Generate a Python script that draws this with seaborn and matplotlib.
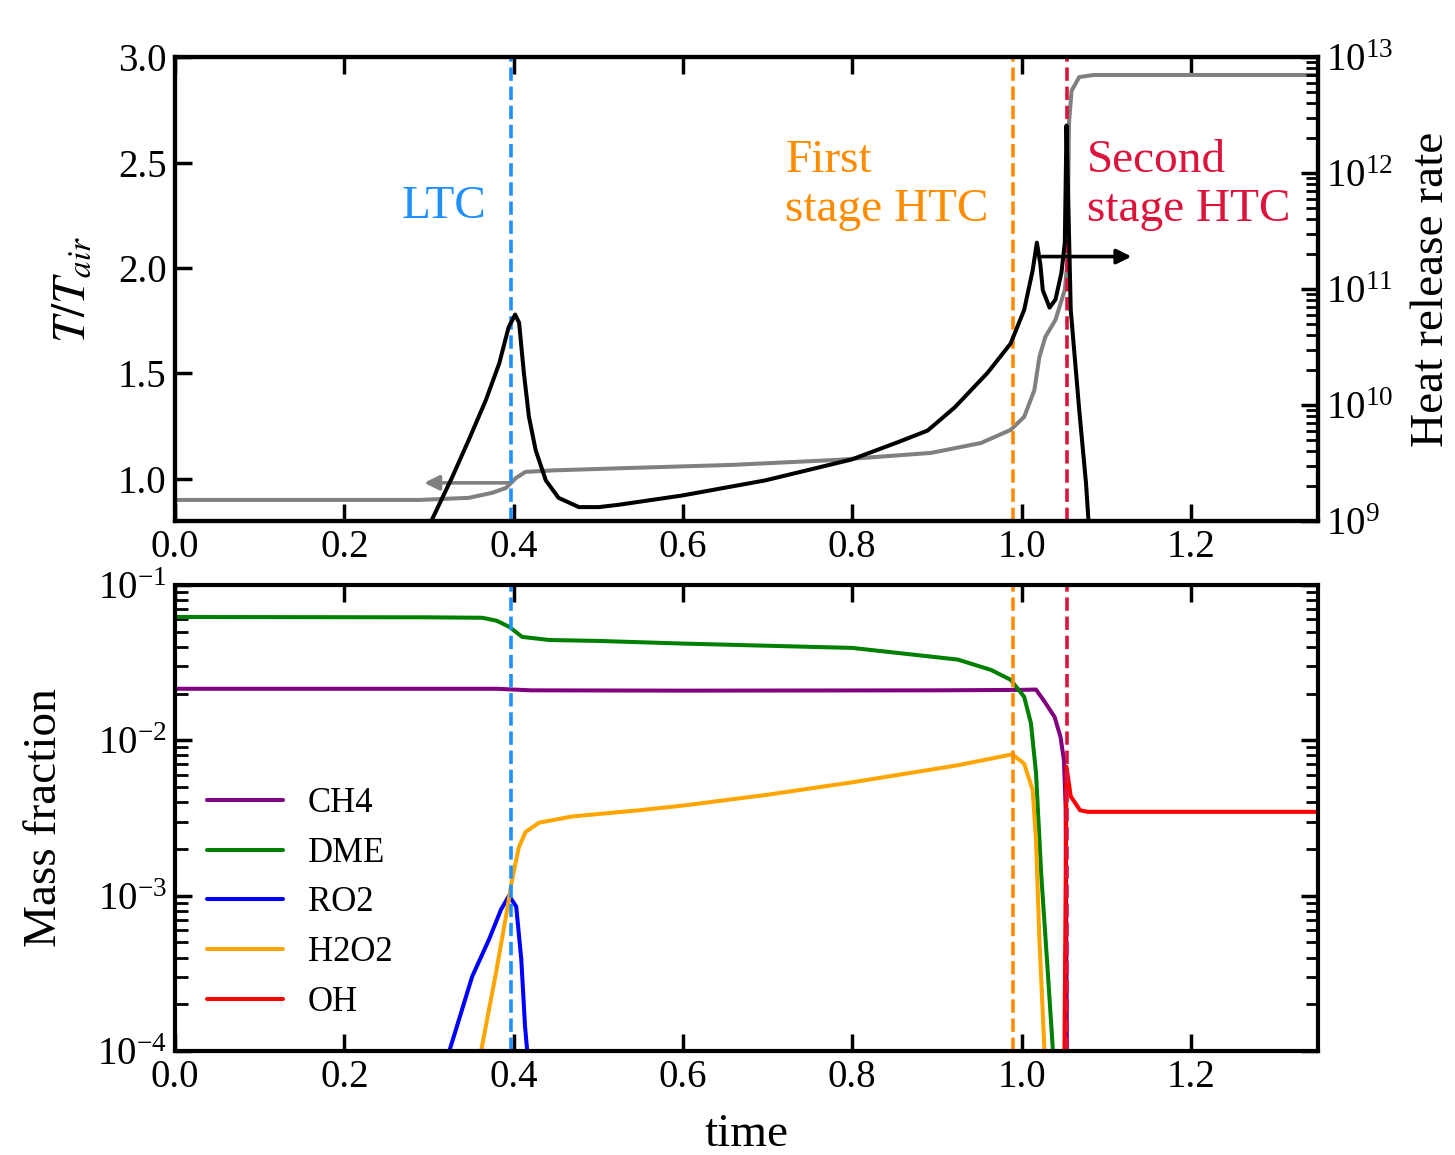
import numpy as np
import pandas as pd
import matplotlib
matplotlib.use("Agg")
import matplotlib.pyplot as plt
import seaborn as sns

# ---------------- data ----------------
t_temp = [0.0, 0.289, 0.347, 0.375, 0.391, 0.403, 0.414, 0.446, 0.524, 0.657, 0.783,
          0.799, 0.893, 0.952, 0.987, 1.003, 1.015, 1.021, 1.028, 1.040, 1.051,
          1.054, 1.056, 1.059, 1.068, 1.085, 1.35]
temp = [0.90, 0.90, 0.91, 0.934, 0.957, 1.005, 1.033, 1.04, 1.05, 1.066, 1.09,
        1.095, 1.123, 1.17, 1.232, 1.294, 1.42, 1.578, 1.673, 1.754, 1.896,
        2.024, 2.69, 2.84, 2.905, 2.915, 2.915]

t_hrr = [0.3027, 0.3275, 0.347, 0.367, 0.383, 0.394, 0.4017, 0.4064, 0.412, 0.418,
         0.426, 0.438, 0.453, 0.477, 0.5006, 0.524, 0.599, 0.697, 0.799, 0.854,
         0.889, 0.921, 0.960, 0.987, 1.003, 1.013, 1.018, 1.022, 1.025, 1.033,
         1.040, 1.047, 1.051, 1.052, 1.053, 1.058, 1.068, 1.076, 1.079]
log_hrr = [9.0, 9.38, 9.70, 10.04, 10.36, 10.67, 10.78, 10.71, 10.28, 9.90,
           9.61, 9.35, 9.20, 9.12, 9.12, 9.14, 9.22, 9.35, 9.53, 9.68,
           9.78, 9.98, 10.28, 10.53, 10.82, 11.16, 11.40, 11.22, 10.99, 10.84,
           10.91, 11.14, 11.40, 11.9, 12.41, 10.82, 9.96, 9.33, 9.0]

t_ch4 = [0.0, 0.38, 0.42, 0.6, 0.9, 1.0, 1.017, 1.027, 1.039, 1.046, 1.050, 1.052,
         1.0535]
log_ch4 = [-1.668, -1.668, -1.678, -1.680, -1.678, -1.675, -1.673, -1.75, -1.85,
           -1.98, -2.13, -2.43, -4.0]

t_dme = [0.0, 0.3, 0.363, 0.38, 0.395, 0.41, 0.442, 0.5, 0.6, 0.8, 0.9246, 0.964,
         0.987, 1.003, 1.011, 1.017, 1.023, 1.031, 1.037]
log_dme = [-1.206, -1.208, -1.211, -1.23, -1.27, -1.334, -1.354, -1.36, -1.377,
           -1.405, -1.48, -1.547, -1.61, -1.72, -1.89, -2.21, -2.85, -3.50, -4.0]

t_ro2 = [0.324, 0.351, 0.371, 0.385, 0.3945, 0.403, 0.409, 0.4134, 0.416]
log_ro2 = [-4.0, -3.52, -3.28, -3.09, -3.0, -3.07, -3.41, -3.84, -4.0]

t_h2o2 = [0.3615, 0.379, 0.391, 0.398, 0.406, 0.414, 0.43, 0.469, 0.548, 0.6, 0.7,
          0.8, 0.925, 0.989, 1.003, 1.013, 1.017, 1.021, 1.027]
log_h2o2 = [-4.0, -3.50, -3.13, -2.90, -2.69, -2.59, -2.53, -2.49, -2.45, -2.42,
            -2.35, -2.27, -2.16, -2.09, -2.15, -2.32, -2.64, -3.28, -4.0]

t_oh = [1.0506, 1.053, 1.058, 1.069, 1.078, 1.35]
log_oh = [-4.0, -2.17, -2.36, -2.45, -2.46, -2.46]

t_ltc, t_htc1, t_htc2 = 0.397, 0.990, 1.053
x_ticks = [0.0, 0.2, 0.4, 0.6, 0.8, 1.0, 1.2]
x_ticklabels = ["0.0", "0.2", "0.4", "0.6", "0.8", "1.0", "1.2"]
temp_ticks = [1.0, 1.5, 2.0, 2.5, 3.0]

# ---------------- style ----------------
sns.set_style("ticks")
plt.rcParams["font.family"] = ["Liberation Serif", "DejaVu Serif"]
plt.rcParams["mathtext.fontset"] = "stix"
plt.rcParams["axes.linewidth"] = 3.0
plt.rcParams["axes.edgecolor"] = "black"
plt.rcParams["xtick.color"] = "black"
plt.rcParams["ytick.color"] = "black"
plt.rcParams["text.color"] = "black"
plt.rcParams["axes.labelcolor"] = "black"

TICK_FS = 28
LABEL_FS = 34
LW = 2.9

fig = plt.figure(figsize=(14.55, 11.55), dpi=100)
ax = fig.add_axes([0.1203, 0.5489, 0.7855, 0.4017])
axb = fig.add_axes([0.1203, 0.0900, 0.7855, 0.4035])
ax2 = ax.twinx()

# ---------------- top panel ----------------
df_T = pd.DataFrame({"time": t_temp, "T": temp})
sns.lineplot(data=df_T, x="time", y="T", ax=ax, color="gray", lw=LW,
             estimator=None, sort=False)
df_H = pd.DataFrame({"time": t_hrr, "hrr": 10.0 ** np.array(log_hrr)})
ax2.set_yscale("log")
sns.lineplot(data=df_H, x="time", y="hrr", ax=ax2, color="black", lw=LW,
             estimator=None, sort=False)

ax.axvline(t_ltc, color="dodgerblue", ls="--", lw=2.6)
ax.axvline(t_htc1, color="darkorange", ls="--", lw=2.6)
ax.axvline(t_htc2, color="crimson", ls="--", lw=2.6)

ax.set_xlim(0, 1.35)
ax.set_ylim(0.8, 3.0)
ax2.set_ylim(1e9, 1e13)
ax.set_xticks(x_ticks)
ax.set_xticklabels(x_ticklabels)
ax.set_yticks(temp_ticks)
ax.set_yticklabels([f"{v:.1f}" for v in temp_ticks])
ax.set_xlabel("")
ax.set_ylabel("$T/T_{air}$", fontsize=LABEL_FS, labelpad=17)
ax2.set_ylabel("Heat release rate", fontsize=LABEL_FS, labelpad=12)
ax2.set_xlabel("")

ax.tick_params(which="both", direction="in", top=True, right=False,
               labelsize=TICK_FS, length=12, width=2.5, pad=6)
ax2.tick_params(which="major", direction="in", right=True, labelsize=TICK_FS,
                length=12, width=2.5, pad=6)
ax2.tick_params(which="minor", direction="in", right=True, length=9, width=2)

ax.annotate("", xy=(0.291, 0.981), xytext=(0.398, 0.981),
            arrowprops=dict(arrowstyle="-|>", color="gray", lw=2.6,
                            mutation_scale=22))
ax2.annotate("", xy=(1.133, 10 ** 11.28), xytext=(1.021, 10 ** 11.28),
             arrowprops=dict(arrowstyle="-|>", color="black", lw=2.6,
                             mutation_scale=22))

ax.text(0.368, 2.29, "LTC", color="dodgerblue", fontsize=34,
        ha="right", va="center")
ax.text(0.721, 2.39, "First\nstage HTC", color="darkorange", fontsize=34,
        ha="left", va="center", linespacing=1.2)
ax.text(1.077, 2.39, "Second\nstage HTC", color="crimson", fontsize=34,
        ha="left", va="center", linespacing=1.2)

# ---------------- bottom panel ----------------
axb.set_yscale("log")
species = [
    ("CH4", t_ch4, log_ch4, "purple"),
    ("DME", t_dme, log_dme, "green"),
    ("RO2", t_ro2, log_ro2, "blue"),
    ("H2O2", t_h2o2, log_h2o2, "orange"),
    ("OH", t_oh, log_oh, "red"),
]
for name, tt, ly, col in species:
    d = pd.DataFrame({"time": tt, "Y": 10.0 ** np.array(ly)})
    sns.lineplot(data=d, x="time", y="Y", ax=axb, color=col, lw=LW,
                 label=name, estimator=None, sort=False)

axb.axvline(t_ltc, color="dodgerblue", ls="--", lw=2.6)
axb.axvline(t_htc1, color="darkorange", ls="--", lw=2.6)
axb.axvline(t_htc2, color="crimson", ls="--", lw=2.6)

axb.set_xlim(0, 1.35)
axb.set_ylim(1e-4, 1e-1)
axb.set_xticks(x_ticks)
axb.set_xticklabels(x_ticklabels)
axb.set_xlabel("time", fontsize=LABEL_FS, labelpad=12)
axb.set_ylabel("Mass fraction", fontsize=LABEL_FS, labelpad=22)
axb.tick_params(which="major", direction="in", top=True, right=True,
                labelsize=TICK_FS, length=12, width=2.5, pad=6)
axb.tick_params(which="minor", direction="in", top=False, right=True,
                length=9, width=2)
axb.tick_params(axis="x", which="minor", bottom=False, top=False)

leg = axb.legend(loc="center left", bbox_to_anchor=(0.028, 0.318),
                 frameon=False, fontsize=25, handlelength=2.2,
                 handletextpad=0.7, labelspacing=0.48, borderpad=0,
                 borderaxespad=0)
for line in leg.get_lines():
    line.set_linewidth(LW)

for a in (ax, ax2, axb):
    for s in a.spines.values():
        s.set_linewidth(3.0)
        s.set_color("black")
        s.set_visible(True)

fig.savefig("out.png", dpi=100)
